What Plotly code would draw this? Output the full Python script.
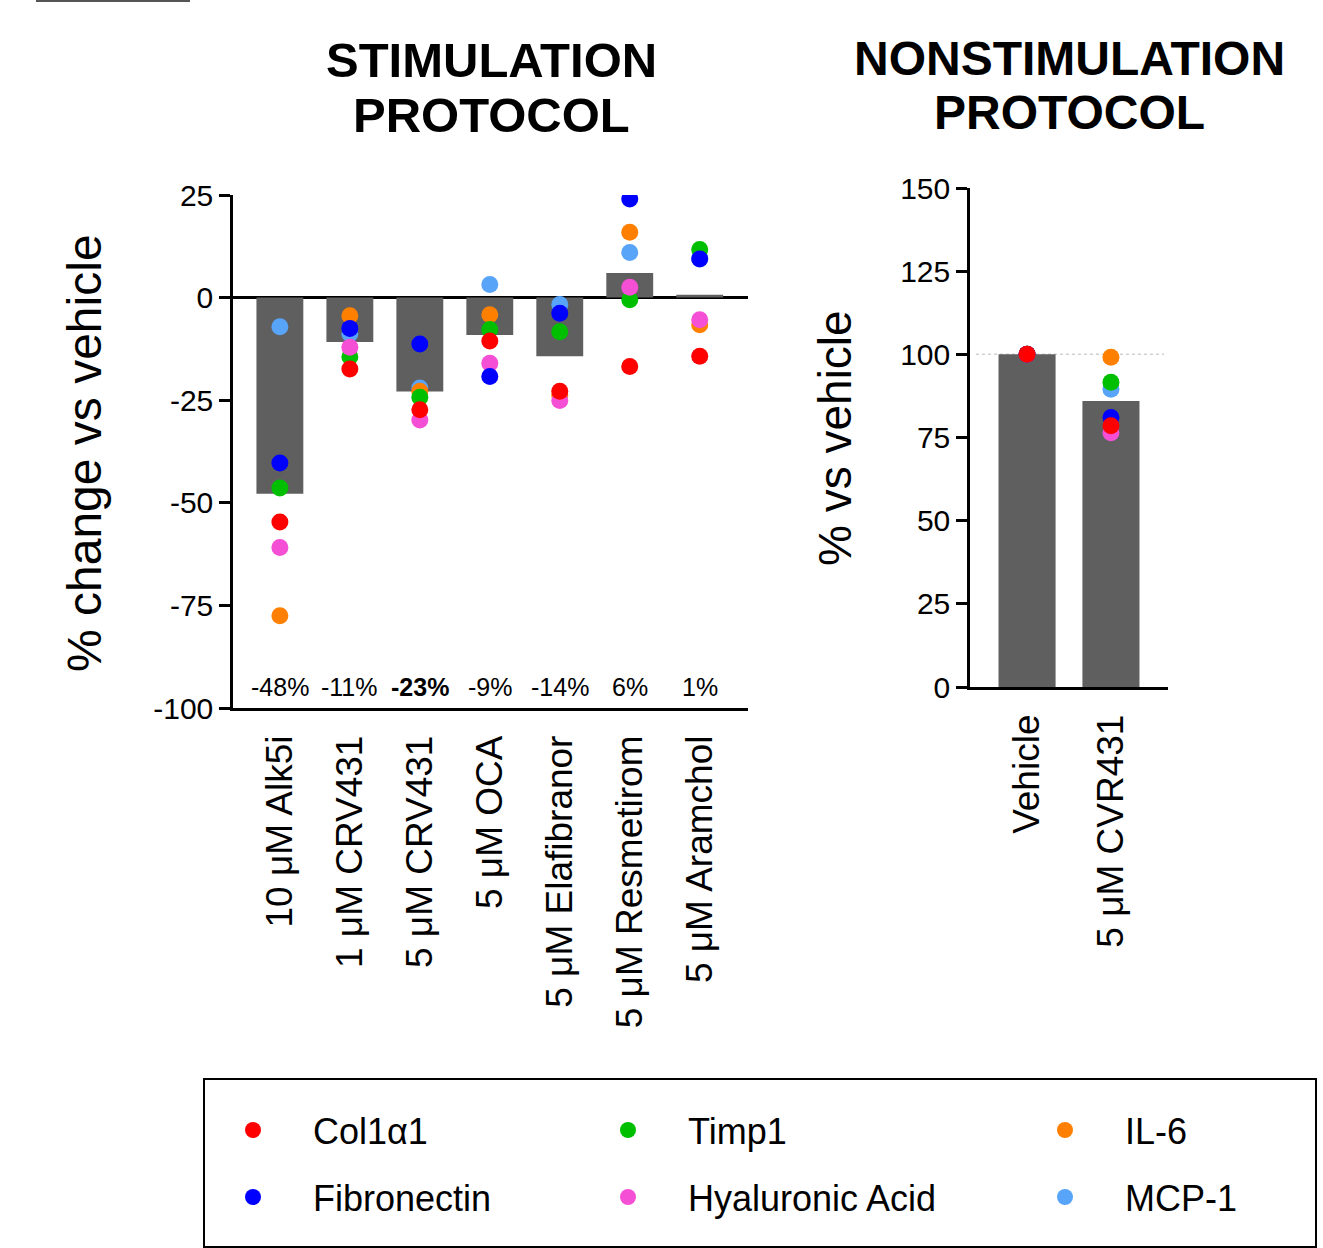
import plotly.graph_objects as go

W, H = 1323, 1248
FONT = "Liberation Sans, Arial, sans-serif"
NARROW = "Liberation Sans Narrow, Arial Narrow, Liberation Sans, sans-serif"

# ---------------- data ----------------
STIM_CATEGORIES = ["10 μM Alk5i", "1 μM CRV431", "5 μM CRV431", "5 μM OCA",
                   "5 μM Elafibranor", "5 μM Resmetirom", "5 μM Aramchol"]
STIM_MEANS = [-47.8, -10.8, -22.9, -9.1, -14.3, 6.0, 0.7]
STIM_LABELS = ["-48%", "-11%", "-23%", "-9%", "-14%", "6%", "1%"]
STIM_LABEL_BOLD = [False, False, True, False, False, False, False]

NONSTIM_CATEGORIES = ["Vehicle", "5 μM CVR431"]
NONSTIM_MEANS = [100.0, 86.0]
NONSTIM_REFERENCE = 100

# per-marker values (stimulation protocol, % change vs vehicle)
COL1A1_STIM = [-54.7, -17.4, -27.3, -10.6, -22.8, -16.8, -14.3]
FIBRONECTIN_STIM = [-40.3, -7.5, -11.3, -19.2, -3.8, 24.0, 9.4]
TIMP1_STIM = [-46.4, -14.4, -24.3, -7.8, -8.3, -0.5, 11.7]
HYALURONIC_STIM = [-60.9, -12.1, -29.8, -16.0, -25.1, 2.5, -5.4]
IL6_STIM = [-77.5, -4.4, -22.8, -4.2, -23.8, 15.9, -6.6]
MCP1_STIM = [-7.1, -8.8, -22.0, 3.2, -1.7, 11.0, 9.6]

# per-marker values (nonstimulation protocol, % vs vehicle)
COL1A1_NONSTIM = [100, 78.5]
FIBRONECTIN_NONSTIM = [100, 81.0]
TIMP1_NONSTIM = [100, 91.6]
HYALURONIC_NONSTIM = [100, 76.4]
IL6_NONSTIM = [100, 99.1]
MCP1_NONSTIM = [100, 89.5]

STIM_TICKS = [-100, -75, -50, -25, 0, 25]
STIM_TICK_TEXT = ["-100", "-75", "-50", "-25", "0", "25"]
NONSTIM_TICKS = [0, 25, 50, 75, 100, 125, 150]
NONSTIM_TICK_TEXT = ["0", "25", "50", "75", "100", "125", "150"]

# series (draw order: bottom -> top)
SERIES_NAMES = ["MCP-1", "IL-6", "Timp1", "Hyaluronic Acid", "Fibronectin", "Col1α1"]
SERIES_STIM = [MCP1_STIM, IL6_STIM, TIMP1_STIM, HYALURONIC_STIM, FIBRONECTIN_STIM, COL1A1_STIM]
SERIES_NONSTIM = [MCP1_NONSTIM, IL6_NONSTIM, TIMP1_NONSTIM, HYALURONIC_NONSTIM,
                  FIBRONECTIN_NONSTIM, COL1A1_NONSTIM]
SERIES_COLORS = ["#58A4F8", "#FF8000", "#00BF00", "#F54FD6", "#0000FF", "#FF0000"]
# legend slot (column, row) for each series
SERIES_LEGEND_SLOT = [(2, 1), (2, 0), (1, 0), (1, 1), (0, 1), (0, 0)]

# ---------------- layout helpers ----------------
def px(x):
    return x / W


def py(y):
    return 1 - y / H


BAR_COLOR = "#5F5F5F"
AX_W = 2.5

fig = go.Figure()

fig.add_trace(go.Bar(x=STIM_CATEGORIES, y=STIM_MEANS, marker_color=BAR_COLOR,
                     marker_line_width=0, width=0.67, showlegend=False,
                     xaxis="x", yaxis="y"))
fig.add_trace(go.Bar(x=NONSTIM_CATEGORIES, y=NONSTIM_MEANS, marker_color=BAR_COLOR,
                     marker_line_width=0, width=0.68, showlegend=False,
                     xaxis="x2", yaxis="y2"))

LEG_COL_X = [253, 628, 1065]
LEG_ROW_Y = [1130, 1197]
legend_layouts = {}
for i, (name, s_vals, n_vals, color, slot) in enumerate(
        zip(SERIES_NAMES, SERIES_STIM, SERIES_NONSTIM, SERIES_COLORS, SERIES_LEGEND_SLOT)):
    leg_id = "legend" if i == 0 else f"legend{i + 1}"
    fig.add_trace(go.Scatter(x=STIM_CATEGORIES, y=s_vals, mode="markers",
                             name="\u00a0\u00a0\u00a0\u00a0" + name,
                             marker=dict(color=color, size=17),
                             legend=leg_id, showlegend=True,
                             xaxis="x", yaxis="y"))
    fig.add_trace(go.Scatter(x=NONSTIM_CATEGORIES, y=n_vals, mode="markers",
                             name=name, marker=dict(color=color, size=17),
                             showlegend=False, xaxis="x2", yaxis="y2"))
    col, row = slot
    legend_layouts[leg_id] = dict(
        x=px(LEG_COL_X[col] - 20), y=py(LEG_ROW_Y[row] - 29.9),
        xanchor="left", yanchor="top", bgcolor="rgba(0,0,0,0)", borderwidth=0,
        font=dict(family=FONT, size=36, color="black"),
    )

annotations = []
for cat, lab, bold in zip(STIM_CATEGORIES, STIM_LABELS, STIM_LABEL_BOLD):
    annotations.append(dict(x=cat, y=-95, xref="x", yref="y",
                            text=f"<b>{lab}</b>" if bold else lab, showarrow=False,
                            font=dict(family=NARROW, size=25, color="black"),
                            xanchor="center", yanchor="middle"))

title_lines = [("STIMULATION", 491, 60, 49), ("PROTOCOL", 491, 115, 49),
               ("NONSTIMULATION", 1069, 58, 48), ("PROTOCOL", 1069, 112, 48)]
for text, x, y, size in title_lines:
    annotations.append(dict(x=px(x), y=py(y), xref="paper", yref="paper",
                            text=f"<b>{text}</b>", showarrow=False,
                            font=dict(family=FONT, size=size, color="black"),
                            xanchor="center", yanchor="middle"))

annotations.append(dict(x=px(85), y=py(453), xref="paper", yref="paper",
                        text="% change vs vehicle", textangle=-90, showarrow=False,
                        font=dict(family=FONT, size=48, color="black"),
                        xanchor="center", yanchor="middle"))
annotations.append(dict(x=px(835), y=py(438), xref="paper", yref="paper",
                        text="% vs vehicle", textangle=-90, showarrow=False,
                        font=dict(family=FONT, size=46, color="black"),
                        xanchor="center", yanchor="middle"))

shapes = [
    # legend frame
    dict(type="rect", xref="paper", yref="paper", x0=px(204), x1=px(1316),
         y0=py(1247), y1=py(1079), line=dict(color="black", width=2),
         fillcolor="rgba(0,0,0,0)", layer="below"),
    # reference line at 100 % (nonstimulation)
    dict(type="line", xref="x2 domain", yref="y2", x0=0.03, x1=0.98,
         y0=NONSTIM_REFERENCE, y1=NONSTIM_REFERENCE,
         line=dict(color="#D0D0D0", width=1.5, dash="dot"), layer="below"),
    # stray rule at top-left corner of the source image
    dict(type="line", xref="paper", yref="paper", x0=px(36), x1=px(190),
         y0=py(1), y1=py(1), line=dict(color="#555555", width=2)),
]

axis_common = dict(showgrid=False, showline=True, linecolor="black", linewidth=AX_W,
                   tickfont=dict(family=FONT, size=30, color="black"))
cat_font = dict(family=FONT, size=37, color="black")

layout = dict(
    width=W, height=H,
    margin=dict(l=0, r=0, t=0, b=0, autoexpand=False),
    paper_bgcolor="white", plot_bgcolor="white",
    font=dict(family=FONT, color="black"),
    barmode="overlay",
    xaxis=dict(domain=[px(233), px(748)], type="category",
               categoryarray=STIM_CATEGORIES, range=[-0.67, 6.69],
               anchor="y", ticks="", tickangle=-90, ticklabelstandoff=10,
               zeroline=False, showgrid=False, showline=True, linecolor="black",
               linewidth=AX_W, tickfont=cat_font),
    yaxis=dict(domain=[py(708), py(195)], range=[-100, 25], anchor="x",
               tickvals=STIM_TICKS, ticktext=STIM_TICK_TEXT, ticks="outside",
               ticklen=11, tickwidth=AX_W, tickcolor="black",
               zeroline=True, zerolinecolor="black", zerolinewidth=3, **axis_common),
    xaxis2=dict(domain=[px(970), px(1168)], type="category",
                categoryarray=NONSTIM_CATEGORIES, range=[-0.68, 1.68],
                anchor="y2", ticks="", tickangle=-90, ticklabelstandoff=10,
                zeroline=False, showgrid=False, showline=True, linecolor="black",
                linewidth=AX_W, tickfont=cat_font),
    yaxis2=dict(domain=[py(687), py(188)], range=[0, 150], anchor="x2",
                tickvals=NONSTIM_TICKS, ticktext=NONSTIM_TICK_TEXT, ticks="outside",
                ticklen=11, tickwidth=AX_W, tickcolor="black",
                zeroline=False, **axis_common),
    annotations=annotations,
    shapes=shapes,
)
layout.update(legend_layouts)
fig.update_layout(**layout)

fig.write_html("out.html", config={"displayModeBar": False},
               post_script="document.body.style.margin='0';")
